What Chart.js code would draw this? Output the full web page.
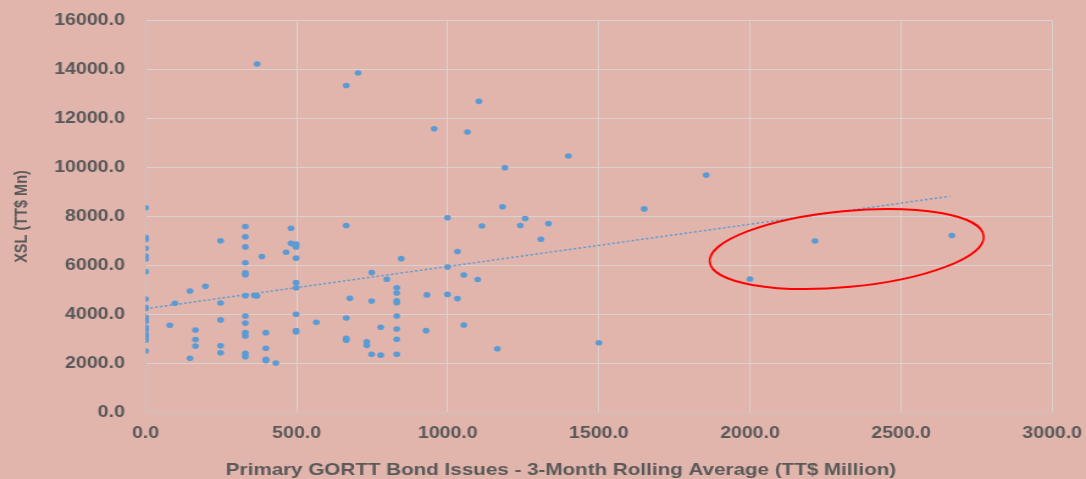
<!DOCTYPE html>
<html>
<head>
<meta charset="utf-8">
<script src="https://cdn.jsdelivr.net/npm/chart.js@4"></script>
<style>
  html, body { margin: 0; padding: 0; background: #E1B5AC; overflow: hidden; }
  #wrap { width: 1086px; height: 479px; }
  canvas { display: block; transform: scaleX(1.2202); transform-origin: 0 0; }
</style>
</head>
<body>
<div id="wrap"><canvas id="chart" width="890" height="479"></canvas></div>
<script>
// bond issues (x) vs XSL (y), one line per group of x values
const xValues = [
  0, 0, 0, 0, 0, 0, 0, 0, 0, 0, 0, 0, 0, 0, 0, 0, 0, 0, 0,
  80, 97, 147, 147, 165, 165, 165, 198,
  248, 248, 248, 248, 248,
  330, 330, 330, 330, 330, 330, 330, 330, 330, 330, 330, 330, 330,
  360, 368, 369, 385,
  398, 398, 398, 398,
  431, 465, 481, 481, 490,
  498, 498, 498, 498, 498, 498, 498, 498,
  565, 664, 703, 664, 664, 664, 664, 676, 732, 732, 748, 748, 748, 778, 778, 798,
  831, 831, 831, 831, 831, 831, 831, 831,
  846, 928, 931, 955, 999, 999, 999, 1032, 1032, 1053, 1053, 1065, 1099, 1103, 1113,
  1164, 1181, 1189, 1240, 1256, 1308, 1333, 1399, 1500, 1650, 1855, 2000, 2215, 2668
];
const yValues = [
  8360, 7150, 7060, 6700, 6390, 6270, 5750, 4630, 4290, 4240, 3900, 3780, 3710, 3480, 3370, 3190, 3090, 2950, 2510,
  3560, 4460, 4960, 2210, 3370, 2980, 2710, 5150,
  7010, 4470, 3780, 2720, 2440,
  7590, 7170, 6760, 6110, 5700, 5620, 4770, 3940, 3650, 3260, 3120, 2420, 2280,
  4780, 4760, 14220, 6370,
  3260, 2620, 2170, 2110,
  2020, 6540, 7520, 6910, 6860,
  6880, 6760, 6300, 5300, 5090, 4010, 3350, 3290,
  3680, 13350, 13860, 7630, 3860, 3030, 2950, 4660, 2890, 2740, 5710, 4550, 2380, 3480, 2340, 5440,
  5090, 4880, 4560, 4480, 3940, 3410, 2990, 2380,
  6280, 3340, 4800, 11580, 7950, 5940, 4820, 6570, 4650, 5610, 3570, 11450, 5430, 12700, 7610,
  2600, 8400, 9990, 7630, 7920, 7070, 7710, 10470, 2850, 8310, 9690, 5450, 7000, 7220
];

// linear trendline ends
const trendX = [0, 2661];
const trendY = [4237, 8824];

const xTicks = [0, 500, 1000, 1500, 2000, 2500, 3000];
const yTicks = [0, 2000, 4000, 6000, 8000, 10000, 12000, 14000, 16000];

const xTitle = 'Primary GORTT Bond Issues - 3-Month Rolling Average (TT$ Million)';
const yTitle = 'XSL (TT$ Mn)';

// the red ring round the last three points
const ring = { x: 2320, y: 6673, rx: 137.6, ry: 38, angle: -5.4 };

const STRETCH = 1086 / 890;
const BG = '#E1B5AC';
const TEXT = '#595959';
const FONT = '"Liberation Sans", Arial, sans-serif';

const bgPlugin = {
  id: 'bg',
  beforeDraw(chart) {
    const c = chart.ctx;
    c.save();
    c.fillStyle = BG;
    c.fillRect(0, 0, chart.width, chart.height);
    c.restore();
  }
};

const extras = {
  id: 'extras',
  afterDraw(chart) {
    const c = chart.ctx;
    const xs = chart.scales.x, ys = chart.scales.y;

    // ellipse drawn in screen space so the css stretch does not skew it
    c.save();
    c.scale(1 / STRETCH, 1);
    c.beginPath();
    c.ellipse(xs.getPixelForValue(ring.x) * STRETCH, ys.getPixelForValue(ring.y),
      ring.rx, ring.ry, ring.angle * Math.PI / 180, 0, Math.PI * 2);
    c.strokeStyle = '#FF0000';
    c.lineWidth = 2;
    c.stroke();
    c.restore();

    // x axis title sits left of the plot centre in the original
    c.save();
    c.font = 'bold 16.9px ' + FONT;
    c.fillStyle = TEXT;
    c.textAlign = 'center';
    c.textBaseline = 'middle';
    c.fillText(xTitle, 561 / STRETCH, 470);
    c.restore();
  }
};

const points = xValues.map((x, i) => ({ x: x, y: yValues[i] }));
const trend = trendX.map((x, i) => ({ x: x, y: trendY[i] }));

new Chart(document.getElementById('chart'), {
  type: 'scatter',
  data: {
    datasets: [{
      label: 'XSL',
      data: points,
      backgroundColor: '#5B9BD5',
      borderColor: '#5B9BD5',
      pointRadius: 2.8,
      pointBorderWidth: 0
    }, {
      type: 'line',
      label: 'Trend',
      data: trend,
      borderColor: '#5B9BD5',
      borderWidth: 1.5,
      borderDash: [2, 2],
      pointRadius: 0,
      fill: false
    }]
  },
  options: {
    responsive: false,
    animation: false,
    devicePixelRatio: 1,
    layout: { padding: { top: 20.5, right: 27.7, bottom: 0, left: 0 } },
    plugins: {
      legend: { display: false },
      tooltip: { enabled: false }
    },
    scales: {
      x: {
        type: 'linear',
        min: 0,
        max: 3000,
        afterBuildTicks: s => { s.ticks = xTicks.map(v => ({ value: v })); },
        afterFit: s => {
          s.height = 66.5;
          s.paddingLeft = 0;
          s.paddingRight = 0;
        },
        grid: { color: '#D9D2D0', lineWidth: 1, drawTicks: false },
        border: { color: '#CBC3C1', width: 1 },
        ticks: {
          padding: 11,
          color: TEXT,
          font: { family: FONT, size: 16, weight: 'bold' },
          maxRotation: 0,
          callback: v => v.toFixed(1)
        }
      },
      y: {
        type: 'linear',
        min: 0,
        max: 16000,
        afterBuildTicks: s => { s.ticks = yTicks.map(v => ({ value: v })); },
        afterFit: s => {
          s.width = 119.3;
          s.paddingTop = 0;
          s.paddingBottom = 0;
        },
        grid: { color: '#D9D2D0', lineWidth: 1, drawTicks: false },
        border: { color: '#CBC3C1', width: 1 },
        title: {
          display: true,
          text: yTitle,
          color: TEXT,
          font: { family: FONT, size: 14.5, weight: 'bold' },
          padding: { top: 9.3, bottom: 0 }
        },
        ticks: {
          padding: 17,
          color: TEXT,
          font: { family: FONT, size: 16, weight: 'bold' },
          callback: v => v.toFixed(1)
        }
      }
    }
  },
  plugins: [bgPlugin, extras]
});
</script>
</body>
</html>
